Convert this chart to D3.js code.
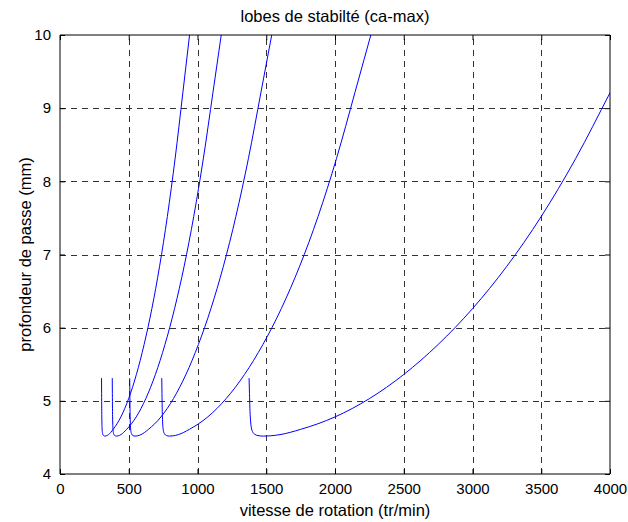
<!DOCTYPE html>
<html><head><meta charset="utf-8">
<script src="https://cdn.jsdelivr.net/npm/d3@7/dist/d3.min.js"></script>
<style>
html,body{margin:0;padding:0;background:#fff;}
text{font-family:"Liberation Sans",Arial,sans-serif;fill:#000;}
</style></head>
<body><svg id="chart" width="628" height="522"></svg>
<script>
const title = "lobes de stabilté (ca-max)";
const xTitle = "vitesse de rotation (tr/min)";
const yTitle = "profondeur de passe (mm)";
const xTicks = [0,500,1000,1500,2000,2500,3000,3500,4000];
const yTicks = [4,5,6,7,8,9,10];

// depth values shared point-by-point by every lobe
const lobeDepth = [5.31,5.10,4.90,4.75,4.64,4.58,4.545,4.525,4.518,4.522,4.538,4.61,4.78,5.03,5.36,5.77,6.26,6.84,7.52,8.31,9.21,10.12];

// spindle speeds of each lobe, same point order as lobeDepth
const lobe1Speed = [1375,1378,1381,1385,1391,1400,1415,1440,1480,1530,1600,1750,2000,2250,2500,2750,3000,3250,3500,3750,4000,4250];
const lobe2Speed = [740,741.6,743.2,745.4,748.6,753.4,761.4,774.8,796.2,822.9,860.4,940.6,1074.4,1208.1,1341.9,1475.6,1609.4,1743.1,1876.9,2010.6,2144.4,2278.1];
const lobe3Speed = [507,508.1,509.2,510.6,512.8,516.1,521.5,530.6,545.2,563.3,588.8,643.3,734.1,825.0,915.8,1006.7,1097.5,1188.4,1279.2,1370.1,1460.9,1551.8];
const lobe4Speed = [380,380.8,381.7,382.8,384.5,387.0,391.2,398.1,409.3,423.2,442.8,484.6,554.3,624.0,693.8,763.5,833.2,902.9,972.7,1042.4,1112.1,1181.8];
const lobe5Speed = [302,302.7,303.4,304.3,305.6,307.6,311.0,316.6,325.7,336.9,352.7,386.5,442.8,499.1,555.5,611.8,668.1,724.4,780.8,837.1,893.4,949.7];

const lobes = [lobe1Speed, lobe2Speed, lobe3Speed, lobe4Speed, lobe5Speed];

const svg = d3.select("#chart");
const m = {left:60, right:18, top:35, bottom:48};
const W = 628, H = 522;
const x = d3.scaleLinear().domain([0,4000]).range([m.left, W - m.right]);
const y = d3.scaleLinear().domain([4,10]).range([H - m.bottom, m.top]);
const fsTick = 15, fsLabel = 16.5;

// grid
const grid = svg.append("g").attr("stroke","#333").attr("stroke-width",1).attr("stroke-dasharray","6,5");
xTicks.slice(1,-1).forEach(t => {
  grid.append("line").attr("x1",Math.round(x(t))+0.5).attr("x2",Math.round(x(t))+0.5)
    .attr("y1",y(4)).attr("y2",y(10));
});
yTicks.slice(1,-1).forEach(t => {
  grid.append("line").attr("y1",Math.round(y(t))+0.5).attr("y2",Math.round(y(t))+0.5)
    .attr("x1",x(0)).attr("x2",x(4000));
});

// curves
svg.append("clipPath").attr("id","plotclip").append("rect")
  .attr("x",x(0)).attr("y",y(10)).attr("width",x(4000)-x(0)).attr("height",y(4)-y(10));
const line = d3.line().x(d=>x(d[0])).y(d=>y(d[1])).curve(d3.curveMonotoneX);
const cg = svg.append("g").attr("clip-path","url(#plotclip)");
lobes.forEach(sp => {
  cg.append("path").datum(sp.map((s,i)=>[s,lobeDepth[i]]))
    .attr("d",line).attr("fill","none").attr("stroke","#0000ff").attr("stroke-width",1);
});

// axes
const xAxisB = d3.axisBottom(x).tickValues(xTicks).tickSize(-5).tickPadding(9).tickFormat(d3.format("d"));
const xAxisT = d3.axisTop(x).tickValues(xTicks).tickSize(-5).tickFormat("");
const yAxisL = d3.axisLeft(y).tickValues(yTicks).tickSize(-5).tickPadding(9).tickFormat(d3.format("d"));
const yAxisR = d3.axisRight(y).tickValues(yTicks).tickSize(-5).tickFormat("");
function style(g){ g.selectAll("path,line").attr("stroke","#000"); g.attr("font-size",fsTick).attr("font-family","Liberation Sans, Arial, sans-serif"); g.selectAll("text").attr("fill","#000"); }
svg.append("g").attr("transform",`translate(0,${y(4)})`).call(xAxisB).call(style).call(g=>g.select(".domain").attr("d",`M${x(0)},0H${x(4000)}`));
svg.append("g").attr("transform",`translate(0,${y(10)})`).call(xAxisT).call(style).call(g=>g.select(".domain").attr("d",`M${x(0)},0H${x(4000)}`));
svg.append("g").attr("transform",`translate(${x(0)},0)`).call(yAxisL).call(style).call(g=>g.select(".domain").attr("d",`M0,${y(4)}V${y(10)}`));
svg.append("g").attr("transform",`translate(${x(4000)},0)`).call(yAxisR).call(style).call(g=>g.select(".domain").attr("d",`M0,${y(4)}V${y(10)}`));

// titles
svg.append("text").attr("x",(x(0)+x(4000))/2).attr("y",22).attr("text-anchor","middle").attr("font-size",fsLabel).text(title);
svg.append("text").attr("x",(x(0)+x(4000))/2).attr("y",516).attr("text-anchor","middle").attr("font-size",fsLabel).text(xTitle);
svg.append("text").attr("transform",`translate(31,${(y(4)+y(10))/2}) rotate(-90)`).attr("text-anchor","middle").attr("font-size",fsLabel).text(yTitle);
</script></body></html>
